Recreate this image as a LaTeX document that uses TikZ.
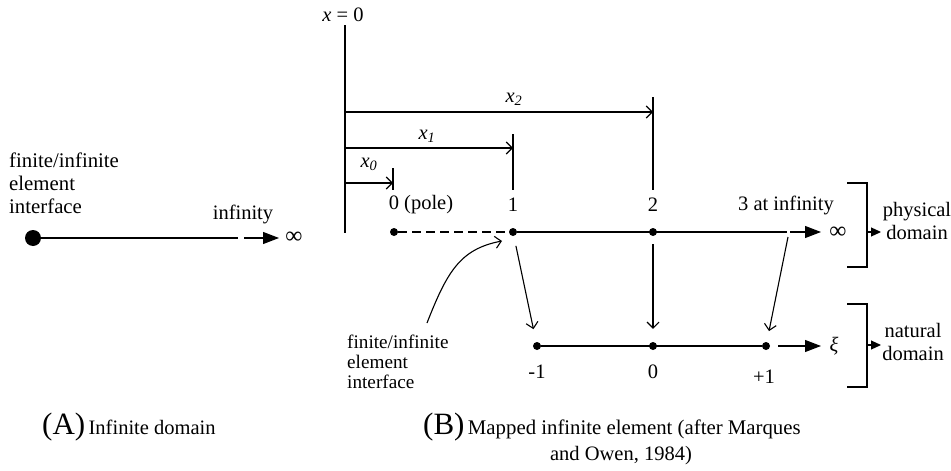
\documentclass[tikz,border=0pt]{standalone}
\usepackage{fontspec}
\setmainfont{Liberation Serif}
\usetikzlibrary{arrows.meta}
\begin{document}
\begin{tikzpicture}[x=1pt,y=-1pt,
  every node/.style={inner sep=0pt, font=\fontsize{20.5}{23}\selectfont},
  ln/.style={line width=1.1pt},
  dotn/.style={circle,fill=black,inner sep=0pt,minimum size=8pt},
  bigdot/.style={circle,fill=black,inner sep=0pt,minimum size=16pt},
  openarr/.style={ln,-{Straight Barb[length=6pt,width=12pt,line width=1.1pt]}},
  solidarr/.style={ln,-{Triangle[length=16pt,width=12pt]}},
  smallarr/.style={ln,-{Triangle[length=10pt,width=9pt]}},
  smalltext/.style={font=\fontsize{19.2}{20}\selectfont},
  inftext/.style={font=\fontsize{24}{24}\selectfont}
]
\useasboundingbox (0,0) rectangle (951,471);

% ---------- (A) infinite domain ----------
\node[align=left,anchor=west,font=\fontsize{20.8}{23}\selectfont] (Atext) at (9,183) {finite/infinite\\element\\interface};
\node[bigdot] (A0) at (33,238) {};
\coordinate (Aend) at (238,238);
\coordinate (Astart) at (244,238);
\coordinate (Atip) at (279,238);
\node[inftext] (Ainf) at (294,238) {∞};
\node (Ainfty) at (243,214) {infinity};
\draw[ln] (A0) -- (Aend);
\draw[solidarr] (Astart) -- (Atip);

% ---------- (B) coordinates ----------
\node (xzero) at (343,15) {\textit{x} = 0};
\coordinate (v0top) at (345,25);
\coordinate (v0bot) at (345,233);
\draw[ln] (v0top) -- (v0bot);

\coordinate (t0a) at (393,168); \coordinate (t0b) at (393,190);
\coordinate (t1a) at (513,134); \coordinate (t1b) at (513,190);
\coordinate (t2a) at (653,97);  \coordinate (t2b) at (653,190);
\draw[ln] (t0a) -- (t0b);
\draw[ln] (t1a) -- (t1b);
\draw[ln] (t2a) -- (t2b);

\coordinate (a0s) at (345,183); \coordinate (a0e) at (393,183);
\coordinate (a1s) at (345,148); \coordinate (a1e) at (513,148);
\coordinate (a2s) at (345,112); \coordinate (a2e) at (653,112);
\draw[openarr] (a0s) -- (a0e);
\draw[openarr] (a1s) -- (a1e);
\draw[openarr] (a2s) -- (a2e);
\node (lx0) at (369,164) {\textit{x}\textsubscript{\textit{0}}};
\node (lx1) at (427,136) {\textit{x}\textsubscript{\textit{1}}};
\node (lx2) at (514,99) {\textit{x}\textsubscript{\textit{2}}};

% ---------- physical domain ----------
\node[dotn] (p0) at (394,232) {};
\node[dotn] (p1) at (513,232) {};
\node[dotn] (p2) at (653,232) {};
\coordinate (pend) at (787,232);
\coordinate (p3s) at (790,232);
\coordinate (p3tip) at (821,232);
\node[inftext] (pinf) at (838,233) {∞};
\draw[ln,dashed,dash pattern=on 9pt off 5pt] (p0) -- (p1);
\draw[ln] (p1) -- (pend);
\draw[solidarr] (p3s) -- (p3tip);

\node (l0) at (421,205) {0 (pole)};
\node (l1) at (513,205) {1};
\node (l2) at (653,205) {2};
\node (l3) at (786,205) {3 at infinity};

% ---------- natural domain ----------
\node[dotn] (nm1) at (537,346) {};
\node[dotn] (n0) at (653,346) {};
\node[dotn] (n1) at (766,346) {};
\coordinate (nxs) at (778,346);
\coordinate (nxtip) at (821,346);
\node (xi) at (834,346) {\textit{ξ}};
\draw[ln] (nm1) -- (n1);
\draw[solidarr] (nxs) -- (nxtip);
\node (lm1) at (537,372) {-1};
\node (ln0) at (653,372) {0};
\node (ln1) at (764,377) {+1};

% ---------- mapping arrows ----------
\coordinate (p3map) at (788,237);
\draw[openarr,shorten <=10pt,shorten >=13pt] (p1) -- (nm1);
\draw[openarr,shorten <=8pt,shorten >=13pt] (p2) -- (n0);
\draw[openarr,shorten >=11pt] (p3map) -- (n1);

% ---------- interface annotation ----------
\node[smalltext,align=left,anchor=west] (Btext) at (347,362) {finite/infinite\\element\\interface};
\coordinate (cstart) at (427,323);
\coordinate (ctip) at (502,241);
\draw[openarr] (cstart) .. controls (447,272) and (460,249) .. (ctip);

% ---------- brackets ----------
\coordinate (b1a) at (847,183); \coordinate (b1b) at (867,183);
\coordinate (b1c) at (867,267); \coordinate (b1d) at (847,267);
\draw[ln] (b1a) -- (b1b) -- (b1c) -- (b1d);
\coordinate (b1s) at (867,232); \coordinate (b1t) at (881,232);
\draw[smallarr] (b1s) -- (b1t);
\node[align=center] (phys) at (917,221) {physical\\domain};

\coordinate (b2a) at (847,304); \coordinate (b2b) at (867,304);
\coordinate (b2c) at (867,387); \coordinate (b2d) at (847,387);
\draw[ln] (b2a) -- (b2b) -- (b2c) -- (b2d);
\coordinate (b2s) at (867,345); \coordinate (b2t) at (881,345);
\draw[smallarr] (b2s) -- (b2t);
\node[align=center] (nat) at (913,342) {natural\\domain};

% ---------- captions ----------
\node[anchor=base west] (capA) at (42,434) {{\fontsize{31}{31}\selectfont (A)}\,Infinite domain};
\node[anchor=base west,font=\fontsize{20.8}{23}\selectfont] (capB) at (423,434) {{\fontsize{31}{31}\selectfont (B)}\,Mapped infinite element (after Marques};
\node[anchor=base] (capB2) at (621,460) {and Owen, 1984)};
\end{tikzpicture}
\end{document}
